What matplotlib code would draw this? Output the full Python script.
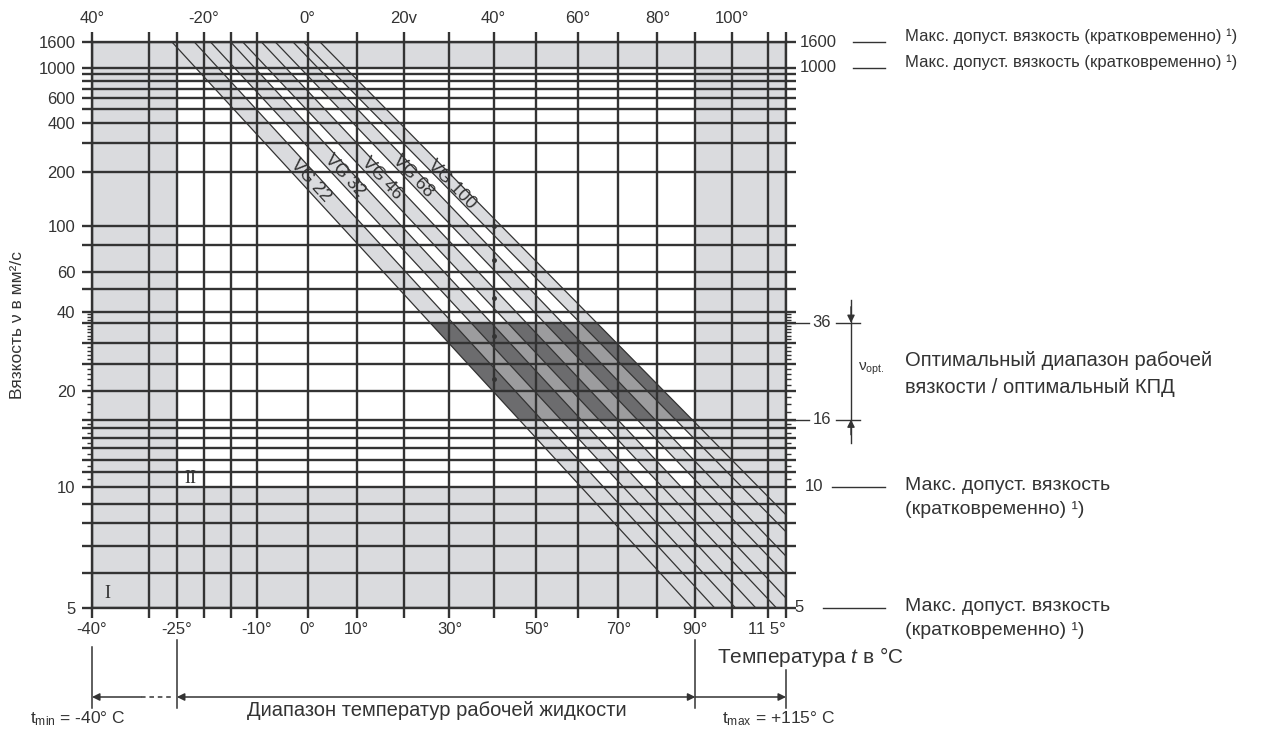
import numpy as np
import matplotlib
matplotlib.use('Agg')
import matplotlib.pyplot as plt
from matplotlib.patches import Polygon
from matplotlib.ticker import FixedLocator, NullFormatter, NullLocator
from matplotlib.transforms import blended_transform_factory as blend

plt.rcParams['font.family'] = ['Liberation Sans', 'DejaVu Sans']
plt.rcParams['mathtext.fontset'] = 'custom'
plt.rcParams['mathtext.rm'] = 'Liberation Sans'
plt.rcParams['mathtext.it'] = 'Liberation Sans:italic'

INK = '#333333'
ZONE = '#dadbde'
MID = '#9c9c9e'
DARK = '#6c6c6e'

# --- data ---
grades = ['VG 22', 'VG 32', 'VG 46', 'VG 68', 'VG 100']
nominal_40 = [22, 32, 46, 68, 100]          # mm2/s at 40 C (dots)
# band edges: temperature where each edge leaves the 1600 line, and where it ends
lo_top_t = [-25.9, -18.8, -12.7, -6.4, -0.8]
lo_end_t = [89.2, 100.9, 112.3, 115, 115]
lo_end_v = [5, 5, 5, 5.95, 7.58]
hi_top_t = [-21.8, -15.0, -9.1, -2.9, 2.5]
hi_end_t = [95.2, 106.5, 115, 115, 115]
hi_end_v = [5, 5, 5.26, 6.59, 8.39]
label_t = [0.6, 7.6, 15.2, 22.0, 30.6]
label_v = [176, 188, 181, 188, 168]

# optimum working range 16..36 mm2/s
opt_t = [25.7, 64.7, 89.1, 45.9]
opt_v = [36, 36, 16, 16]

grid_t = [-40, -30, -25, -20, -15, -10, 0, 10, 20, 30, 40, 50, 60, 70, 80, 90, 100, 110, 115]
bottom_t = [-40, -25, -10, 0, 10, 30, 50, 70, 90, 115]
bottom_lab = ['-40°', '-25°', '-10°', '0°', '10°', '30°', '50°', '70°', '90°', '11 5°']
top_t = [-40, -20, 0, 20, 40, 60, 80, 100]
top_lab = ['40°', '-20°', '0°', '20v', '40°', '60°', '80°', '100°']

grid_v = [5, 6, 7, 8, 9, 10, 11, 12, 13, 14, 15, 16, 20, 25, 30, 36, 40, 50, 60, 80,
          100, 200, 300, 400, 500, 600, 700, 800, 900, 1000, 1600]
left_v = [5, 10, 20, 40, 60, 100, 200, 400, 600, 1000, 1600]
fine_v = [10.5, 11.5, 12.5, 13.5, 14.5, 15.5, 17, 18, 19, 21, 22, 23, 24, 26, 27, 28, 29,
          31, 32, 33, 34, 35, 37, 38, 39]


# temperature axis ~ log(T in K), viscosity axis ~ log log(v + 0.7)
def t_fwd(t):
    return np.log10(np.asarray(t, float) + 273.15)


def t_inv(x):
    return 10 ** np.asarray(x, float) - 273.15


def v_fwd(v):
    with np.errstate(all='ignore'):
        return np.log10(np.log10(np.asarray(v, float) + 0.7))


def v_inv(z):
    return 10 ** (10 ** np.asarray(z, float)) - 0.7


W, H = 1272, 738
L, R, T, B = 92, 786, 42, 608
fig = plt.figure(figsize=(W / 100, H / 100), dpi=100)
ax = fig.add_axes([L / W, 1 - B / H, (R - L) / W, (B - T) / H])
ax_fine = ax.twinx()
for a in (ax, ax_fine):
    a.set_xscale('function', functions=(t_fwd, t_inv))
    a.set_yscale('function', functions=(v_fwd, v_inv))
    a.set_xlim(-40, 115)
    a.set_ylim(5, 1600)


def fx(px):
    return (px - L) / (R - L)


def fy(py):
    return (B - py) / (B - T)


tr_right = blend(ax.transAxes, ax.transData)
tr_bot = blend(ax.transData, ax.transAxes)

# shaded zones
ax.axvspan(-40, -25, color=ZONE, lw=0, zorder=0.5)
ax.axvspan(90, 115, color=ZONE, lw=0, zorder=0.5)
ax.axhspan(5, 10, color=ZONE, lw=0, zorder=0.5)
ax.axhspan(1000, 1600, color=ZONE, lw=0, zorder=0.5)

# VG bands
bands = []
for i in range(len(grades)):
    pts = [(lo_top_t[i], 1600), (lo_end_t[i], lo_end_v[i]), (115, 5),
           (hi_end_t[i], hi_end_v[i]), (hi_top_t[i], 1600)]
    bands.append(pts)
    ax.add_patch(Polygon(pts, closed=True, fc=ZONE, ec='none', zorder=0.8))

opt = Polygon(list(zip(opt_t, opt_v)), closed=True, fc=MID, ec='none', zorder=0.9)
ax.add_patch(opt)
for pts in bands:
    p = Polygon(pts, closed=True, fc=DARK, ec='none', zorder=0.95)
    ax.add_patch(p)
    p.set_clip_path(opt)

for i in range(len(grades)):
    ax.plot([lo_top_t[i], lo_end_t[i]], [1600, lo_end_v[i]], color=INK, lw=0.9, zorder=2)
    ax.plot([hi_top_t[i], hi_end_t[i]], [1600, hi_end_v[i]], color=INK, lw=0.9, zorder=2)
    p0 = ax.transData.transform((lo_top_t[i], 1600))
    p1 = ax.transData.transform((lo_end_t[i], lo_end_v[i]))
    ang = np.degrees(np.arctan2(p1[1] - p0[1], p1[0] - p0[0]))
    ax.text(label_t[i], label_v[i], grades[i], rotation=ang, rotation_mode='anchor',
            ha='center', va='center', fontsize=13, color=INK, zorder=3)

ax.plot([40] * len(nominal_40), nominal_40, 'o', ms=2.5, color=INK, zorder=3)

# grid and ticks
ax.xaxis.set_major_locator(FixedLocator(bottom_t))
ax.set_xticklabels(bottom_lab)
ax.xaxis.set_minor_locator(FixedLocator([t for t in grid_t if t not in bottom_t]))
ax.xaxis.set_minor_formatter(NullFormatter())
ax.yaxis.set_major_locator(FixedLocator(left_v))
ax.set_yticklabels([str(v) for v in left_v])
ax.yaxis.set_minor_locator(FixedLocator([v for v in grid_v if v not in left_v]))
ax.yaxis.set_minor_formatter(NullFormatter())
ax.xaxis.get_majorticklabels()[-1].set_ha('right')

ax.grid(True, which='both', color=INK, lw=1.7)
ax.tick_params(which='both', direction='out', color=INK, width=1.7, length=7,
               labelsize=12, labelcolor=INK)
ax.tick_params(axis='x', which='both', top=True, bottom=True, pad=3)
ax.tick_params(axis='y', which='both', left=True, right=True, pad=5)
for s in ax.spines.values():
    s.set_color(INK)
    s.set_linewidth(1.7)

ax_fine.yaxis.set_major_locator(FixedLocator(fine_v))
ax_fine.yaxis.set_minor_locator(NullLocator())
ax_fine.tick_params(axis='y', which='both', left=True, right=True, labelleft=False,
                    labelright=False, length=3.5, width=1, color=INK, direction='out')
for s in ax_fine.spines.values():
    s.set_visible(False)

ax.set_ylabel('Вязкость ν в мм²/с', fontsize=12.5, color=INK)
ax.yaxis.set_label_coords(fx(25), 0.5)

for t, lab in zip(top_t, top_lab):
    ax.text(t, fy(18), lab, transform=tr_bot, ha='center', va='center', fontsize=12, color=INK)

# right side annotations
kw = dict(transform=tr_right, clip_on=False, color=INK)
small = 'Макс. допуст. вязкость (кратковременно) ¹)'
for v in (1600, 1000):
    ax.text(fx(800), v, str(v), va='center', ha='left', fontsize=12, **kw)
    ax.plot([fx(853), fx(885)], [v, v], lw=1.0, **kw)
    ax.annotate(small, xy=(fx(905), v), xycoords=tr_right, xytext=(0, 4),
                textcoords='offset points', va='center', ha='left', fontsize=12, color=INK)

for v in (36, 16):
    ax.plot([fx(786), fx(809)], [v, v], lw=1.0, **kw)
    ax.text(fx(822), v, str(v), va='center', ha='center', fontsize=12, **kw)
    ax.plot([fx(836), fx(860)], [v, v], lw=1.0, **kw)
ax.plot([fx(851), fx(851)], [45, 13.5], lw=1.0, **kw)
ax.annotate('', xy=(fx(851), 36), xycoords=tr_right, xytext=(fx(851), 42),
            textcoords=tr_right, arrowprops=dict(arrowstyle='-|>', color=INK, lw=1,
                                                   mutation_scale=11, shrinkA=0, shrinkB=0))
ax.annotate('', xy=(fx(851), 16), xycoords=tr_right, xytext=(fx(851), 14.3),
            textcoords=tr_right, arrowprops=dict(arrowstyle='-|>', color=INK, lw=1,
                                                   mutation_scale=11, shrinkA=0, shrinkB=0))
ax.text(fx(858), 24, r'$\mathrm{\nu}_{\mathrm{opt.}}$', va='center', ha='left', fontsize=11, **kw)
ax.annotate('Оптимальный диапазон рабочей\nвязкости / оптимальный КПД', xy=(fx(905), 24),
            xycoords=tr_right, xytext=(0, -4), textcoords='offset points',
            va='center', ha='left', fontsize=14.5, linespacing=1.55, color=INK)

for v, x0, x1 in ((10, 814, 832), (5, 799, 823)):
    ax.text(fx(x0), v, str(v), va='center', ha='center', fontsize=12, **kw)
    ax.plot([fx(x1), fx(885)], [v, v], lw=1.0, **kw)
    ax.annotate('Макс. допуст. вязкость\n(кратковременно) ¹)', xy=(fx(905), v),
                xycoords=tr_right, xytext=(0, 7), textcoords='offset points',
                va='top', ha='left', fontsize=14, linespacing=1.55, color=INK)

# zone labels
ax.text(-37.3, 5.4, 'I', fontsize=13, family='Liberation Serif', color=INK, ha='center', va='center')
ax.text(-22.5, 10.6, 'II', fontsize=13, family='Liberation Serif', color=INK, ha='center', va='center')

# bottom dimension lines
kb = dict(transform=tr_bot, clip_on=False, color=INK, lw=1.1)
for t, top in ((-40, 647), (-25, 640), (90, 640), (115, 670)):
    ax.plot([t, t], [fy(top), fy(708)], **kb)
yd = fy(697)
arr = dict(color=INK, lw=1.1, mutation_scale=11, shrinkA=0, shrinkB=0)
ax.annotate('', xy=(-25, yd), xycoords=tr_bot, xytext=(90, yd), textcoords=tr_bot,
            arrowprops=dict(arrowstyle='<|-|>', **arr))
ax.annotate('', xy=(115, yd), xycoords=tr_bot, xytext=(90, yd), textcoords=tr_bot,
            arrowprops=dict(arrowstyle='-|>', **arr))
ax.annotate('', xy=(-40, yd), xycoords=tr_bot, xytext=(-31.5, yd), textcoords=tr_bot,
            arrowprops=dict(arrowstyle='-|>', **arr))
ax.plot([-31.5, -25.5], [yd, yd], ls=(0, (3, 2.5)), **kb)

ax.text(fx(717), fy(657), 'Температура $t$ в °C', transform=ax.transAxes, ha='left',
        va='center', fontsize=15, color=INK)
ax.text(fx(437), fy(711), 'Диапазон температур рабочей жидкости', transform=ax.transAxes,
        ha='center', va='center', fontsize=14.5, color=INK)
ax.text(fx(30), fy(719), r'$\mathrm{t_{min}}$ = -40° C', transform=ax.transAxes,
        ha='left', va='center', fontsize=12.5, color=INK)
ax.text(fx(722), fy(719), r'$\mathrm{t_{max}}$ = +115° C', transform=ax.transAxes,
        ha='left', va='center', fontsize=12.5, color=INK)

fig.savefig('out.png', dpi=100, facecolor='white')
